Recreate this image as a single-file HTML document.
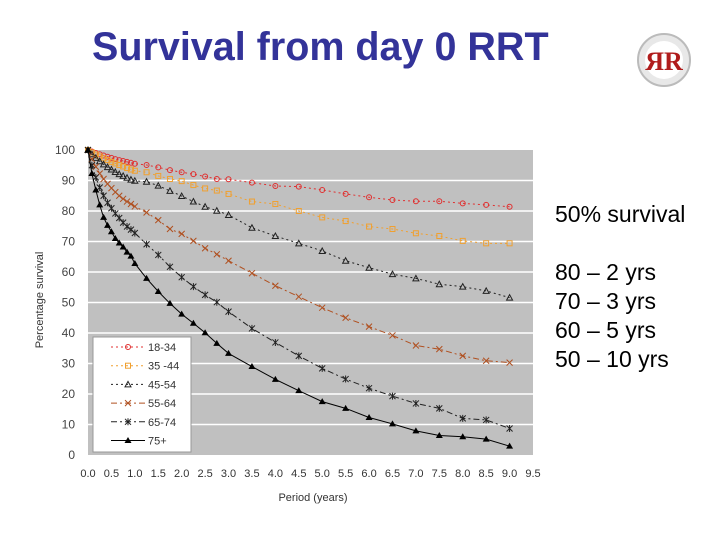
<!DOCTYPE html>
<html><head><meta charset="utf-8"><style>
body{margin:0;width:720px;height:540px;background:#fff;overflow:hidden;font-family:"Liberation Sans",sans-serif;position:relative}
.t{position:absolute;margin:0}
</style></head><body>
<div class="t" style="left:92px;top:25px;font-size:39.5px;font-weight:bold;color:#333399;white-space:nowrap">Survival from day 0 RRT</div>
<svg class="t" style="left:634px;top:32px" width="60" height="55" viewBox="0 0 60 55">
<circle cx="30" cy="28" r="26" fill="#e8e8e8" stroke="#bbb" stroke-width="2"/><circle cx="30" cy="28" r="19" fill="#fff"/>
<text x="30" y="38" text-anchor="middle" font-family="Liberation Serif,serif" font-weight="bold" font-size="26" fill="#b01c1c">ЯR</text></svg>
<div class="t" style="left:555px;top:201px;font-size:23px;color:#000;white-space:nowrap">50% survival</div>
<div class="t" style="left:555px;top:258px;font-size:23px;line-height:29px;color:#000;white-space:nowrap">80 – 2 yrs<br>70 – 3 yrs<br>60 – 5 yrs<br>50 – 10 yrs</div>
<svg id="chart" class="t" style="left:0;top:0" width="720" height="540"></svg>
<script>
const times=[0,0.083,0.167,0.25,0.333,0.417,0.5,0.583,0.667,0.75,0.833,0.917,1,1.25,1.5,1.75,2,2.25,2.5,2.75,3,3.5,4,4.5,5,5.5,6,6.5,7,7.5,8,8.5,9];
const s1834=[100,99.5,99,98.6,98.2,97.8,97.4,97,96.7,96.4,96.1,95.8,95.5,95.1,94.3,93.4,92.7,92.1,91.3,90.5,90.4,89.3,88.2,88,86.9,85.6,84.5,83.6,83.2,83.2,82.5,82,81.4];
const s3544=[100,99.2,98.5,97.9,97.3,96.7,96.1,95.6,95.1,94.6,94.1,93.6,93.2,92.7,91.5,90.5,89.8,88.5,87.4,86.7,85.6,83.1,82.3,80,77.9,76.7,74.9,74.1,72.7,71.8,70.2,69.4,69.4];
const s4554=[100,98.6,97.4,96.3,95.3,94.4,93.6,92.8,92.1,91.5,90.9,90.3,89.9,89.6,88.3,86.6,84.9,83.1,81.4,80.1,78.7,74.5,71.8,69.4,66.9,63.7,61.4,59.3,57.9,56,55.2,53.8,51.6];
const s5564=[100,97,94.5,92.3,90.5,88.9,87.5,86.2,85,84,83.1,82.3,81.5,79.5,77,74.1,72.5,70.2,67.8,65.8,63.7,59.6,55.5,51.9,48.3,45,42.1,39.2,35.9,34.7,32.5,30.9,30.3];
const s6574=[100,95,91,87.7,85,82.7,80.9,79.2,77.7,76.2,74.9,73.9,72.8,69.1,65.6,61.7,58.3,55.2,52.5,50.1,47,41.5,36.9,32.5,28.4,24.9,21.9,19.3,16.9,15.3,12,11.5,8.7];
const s75=[100,92.3,86.9,82,77.9,75.3,73.2,71,69.5,68.2,66.5,65.2,62.8,57.9,53.6,49.7,46.2,43.2,40.1,36.6,33.3,29,24.8,21.1,17.5,15.3,12.3,10.2,7.9,6.4,6,5.2,2.9];
const yTicks=[0,10,20,30,40,50,60,70,80,90,100];
const xTicks=["0.0","0.5","1.0","1.5","2.0","2.5","3.0","3.5","4.0","4.5","5.0","5.5","6.0","6.5","7.0","7.5","8.0","8.5","9.0","9.5"];
const seriesNames=["18-34","35 -44","45-54","55-64","65-74","75+"];
const NS="http://www.w3.org/2000/svg",svg=document.getElementById("chart");
const X0=88,X1=533,Y0=455,Y1=150;
const xs=v=>X0+v/9.5*(X1-X0), ys=v=>Y0-v/100*(Y0-Y1);
function mk(t,a,p){const e=document.createElementNS(NS,t);for(const k in a)e.setAttribute(k,a[k]);(p||svg).appendChild(e);return e;}
const bg=mk("rect",{x:X0,y:Y1,width:X1-X0,height:Y0-Y1,fill:"#c0c0c0"});


yTicks.forEach(v=>{
 if(v>0&&v<100){const g=mk("line",{x1:X0,x2:X1,y1:ys(v),y2:ys(v),stroke:"#fff","stroke-width":1.5});
 
 }
 const t=mk("text",{x:75,y:ys(v)+4,"text-anchor":"end","font-size":12,fill:"#444"});t.textContent=v;
 
 
});
xTicks.forEach((l,i)=>{const t=mk("text",{x:xs(i*0.5),y:477,"text-anchor":"middle","font-size":11,fill:"#333"});t.textContent=l;
 
 });
const xt=mk("text",{x:313,y:501,"text-anchor":"middle","font-size":11,fill:"#333"});xt.textContent="Period (years)";


const yt=mk("text",{x:0,y:0,transform:"translate(43,300) rotate(-90)","text-anchor":"middle","font-size":11,fill:"#333"});yt.textContent="Percentage survival";


const styles=[
 {c:"#e03030",d:"2,3",m:"o"},{c:"#f0a030",d:"2,3",m:"s"},{c:"#222",d:"2,3",m:"t"},
 {c:"#b05020",d:"6,3,2,3",m:"x"},{c:"#222",d:"6,3,2,3",m:"*"},{c:"#000",d:"",m:"T"}];
function marker(g,m,x,y,c){
 if(m=="o")mk("circle",{cx:x,cy:y,r:2.5,fill:"none",stroke:c},g);
 else if(m=="s")mk("rect",{x:x-2.5,y:y-2.5,width:5,height:5,fill:"none",stroke:c},g);
 else if(m=="t")mk("path",{d:`M${x} ${y-3}L${x+3} ${y+2.5}L${x-3} ${y+2.5}Z`,fill:"none",stroke:c},g);
 else if(m=="x")mk("path",{d:`M${x-3} ${y-3}L${x+3} ${y+3}M${x+3} ${y-3}L${x-3} ${y+3}`,stroke:c},g);
 else if(m=="*")mk("path",{d:`M${x-3} ${y-3}L${x+3} ${y+3}M${x+3} ${y-3}L${x-3} ${y+3}M${x} ${y-3.5}L${x} ${y+3.5}`,stroke:c},g);
 else mk("path",{d:`M${x} ${y-3.5}L${x+3.5} ${y+2.5}L${x-3.5} ${y+2.5}Z`,fill:c},g);
}
[s1834,s3544,s4554,s5564,s6574,s75].forEach((s,i)=>{
 const st=styles[i];const g=mk("g",{});
 
 
 mk("polyline",{points:s.map((v,j)=>xs(times[j])+","+ys(v)).join(" "),fill:"none",stroke:st.c,"stroke-width":1,"stroke-dasharray":st.d},g);
 s.forEach((v,j)=>marker(g,st.m,xs(times[j]),ys(v),st.c));
});
const lg=mk("g",{});


mk("rect",{x:93,y:337,width:98,height:115,fill:"#fff",stroke:"#999"},lg);
seriesNames.forEach((n,i)=>{
 const st=styles[i],y=347+i*18.7;const e=mk("g",{},lg);
 
 
 mk("line",{x1:111,x2:145,y1:y,y2:y,stroke:st.c,"stroke-dasharray":st.d},e);
 marker(e,st.m,128,y,st.c);
 const t=mk("text",{x:148,y:y+4,"font-size":11,fill:"#333"},e);t.textContent=n;
});
</script>
</body></html>
